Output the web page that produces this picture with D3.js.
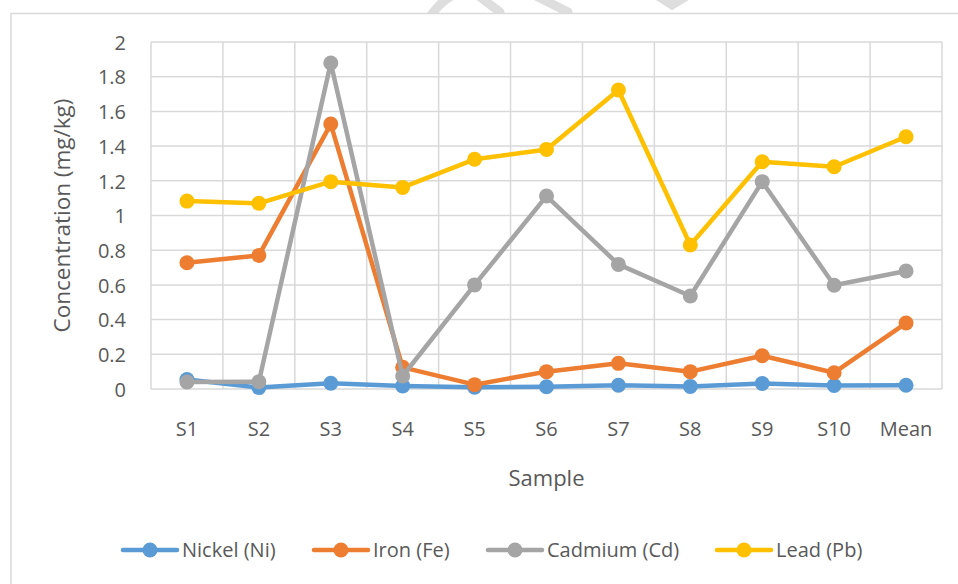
<!DOCTYPE html>
<html>
<head>
<meta charset="utf-8">
<script src="https://cdn.jsdelivr.net/npm/d3@7"></script>
<style>
  body { margin: 0; background: #fff; }
  text { font-family: "Open Sans", sans-serif; fill: #595959; }
</style>
</head>
<body>
<svg id="chart" width="958" height="584"></svg>
<script>
const samples = ["S1", "S2", "S3", "S4", "S5", "S6", "S7", "S8", "S9", "S10", "Mean"];
const nickel = [0.055, 0.008, 0.033, 0.018, 0.01, 0.013, 0.022, 0.015, 0.032, 0.02, 0.022];
const iron = [0.728, 0.77, 1.527, 0.125, 0.025, 0.1, 0.148, 0.1, 0.192, 0.094, 0.38];
const cadmium = [0.04, 0.042, 1.879, 0.075, 0.6, 1.112, 0.718, 0.536, 1.195, 0.598, 0.68];
const lead = [1.083, 1.07, 1.195, 1.162, 1.324, 1.381, 1.723, 0.83, 1.31, 1.281, 1.454];
const yTicks = [0, 0.2, 0.4, 0.6, 0.8, 1, 1.2, 1.4, 1.6, 1.8, 2];

const series = [
    { name: "Nickel (Ni)", values: nickel, color: "#5B9BD5" },
    { name: "Iron (Fe)", values: iron, color: "#ED7D31" },
    { name: "Cadmium (Cd)", values: cadmium, color: "#A5A5A5" },
    { name: "Lead (Pb)", values: lead, color: "#FFC000" }
];

const svg = d3.select("#chart"),
    margin = { left: 151, right: 942, top: 42, bottom: 389 };

// faint watermark strokes at the top, cut by the frame
svg.append("clipPath").attr("id", "wmclip")
    .append("rect").attr("x", 0).attr("y", 0).attr("width", 958).attr("height", 13);
const wm = svg.append("g").attr("clip-path", "url(#wmclip)")
    .attr("stroke", "#dedede").attr("stroke-width", 9)
    .attr("fill", "none").attr("stroke-linecap", "round");
wm.append("path").attr("d", "M432,14 Q445,-4 462,-8");
wm.append("path").attr("d", "M476,-6 L500,12");
wm.append("path").attr("d", "M528,-8 L568,12");
wm.append("path").attr("d", "M655,-6 L672,5 L690,-6");

// chart frame (partly cut off in the original)
svg.append("path")
    .attr("d", "M11,600 V13.5 H960")
    .attr("fill", "none")
    .attr("stroke", "#d9d9d9")
    .attr("stroke-width", 1.5);

const x = d3.scaleBand().domain(samples).range([margin.left, margin.right]);
const y = d3.scaleLinear().domain([0, 2]).range([margin.bottom, margin.top]);

// grid
const grid = svg.append("g").attr("stroke", "#d9d9d9").attr("stroke-width", 1.5);
grid.selectAll(".h").data(yTicks).enter().append("line")
    .attr("x1", margin.left).attr("x2", margin.right)
    .attr("y1", d => y(d)).attr("y2", d => y(d));
const xb = samples.map(s => x(s)).concat([margin.right]);
grid.selectAll(".v").data(xb).enter().append("line")
    .attr("x1", d => d).attr("x2", d => d)
    .attr("y1", margin.top).attr("y2", margin.bottom);

// y axis
const yAxis = svg.append("g")
    .attr("transform", "translate(129,0)")
    .call(d3.axisLeft(y).tickValues(yTicks).tickSize(0).tickFormat(d3.format("")));
yAxis.select(".domain").remove();
yAxis.selectAll("text").attr("font-size", 20).attr("dy", "0.36em")
    .attr("font-family", "'Open Sans', sans-serif").attr("fill", "#595959");

// x axis
const xAxis = svg.append("g")
    .attr("transform", "translate(0,436)")
    .call(d3.axisBottom(x).tickSize(0));
xAxis.select(".domain").remove();
xAxis.selectAll("text").attr("font-size", 20).attr("y", 0).attr("dy", 0)
    .attr("font-family", "'Open Sans', sans-serif").attr("fill", "#595959");

// titles
svg.append("text")
    .attr("x", (margin.left + margin.right) / 2).attr("y", 486)
    .attr("text-anchor", "middle").attr("font-size", 22)
    .text("Sample");
svg.append("text")
    .attr("transform", "translate(70," + ((margin.top + margin.bottom) / 2) + ") rotate(-90)")
    .attr("text-anchor", "middle").attr("font-size", 22.5)
    .text("Concentration (mg/kg)");

// lines
const line = d3.line()
    .x((d, i) => x(samples[i]) + x.bandwidth() / 2)
    .y(d => y(d));

const sg = svg.selectAll(".series").data(series).enter().append("g");
sg.append("path")
    .attr("d", d => line(d.values))
    .attr("fill", "none")
    .attr("stroke", d => d.color)
    .attr("stroke-width", 4.5)
    .attr("stroke-linejoin", "round");
sg.selectAll("circle").data(d => d.values.map(v => ({ v: v, c: d.color })))
    .enter().append("circle")
    .attr("cx", (d, i) => x(samples[i]) + x.bandwidth() / 2)
    .attr("cy", d => y(d.v))
    .attr("r", 7.5)
    .attr("fill", d => d.c);

// legend
const legendX = [123, 314, 488, 717];
const lg = svg.selectAll(".legend").data(series).enter().append("g")
    .attr("transform", (d, i) => "translate(" + legendX[i] + ",550)");
lg.append("line")
    .attr("x1", 0).attr("x2", 54)
    .attr("stroke", d => d.color).attr("stroke-width", 4.5)
    .attr("stroke-linecap", "round");
lg.append("circle").attr("cx", 27).attr("r", 7.5).attr("fill", d => d.color);
lg.append("text")
    .attr("x", 59).attr("dy", "0.36em").attr("font-size", 20)
    .text(d => d.name);
</script>
</body>
</html>
